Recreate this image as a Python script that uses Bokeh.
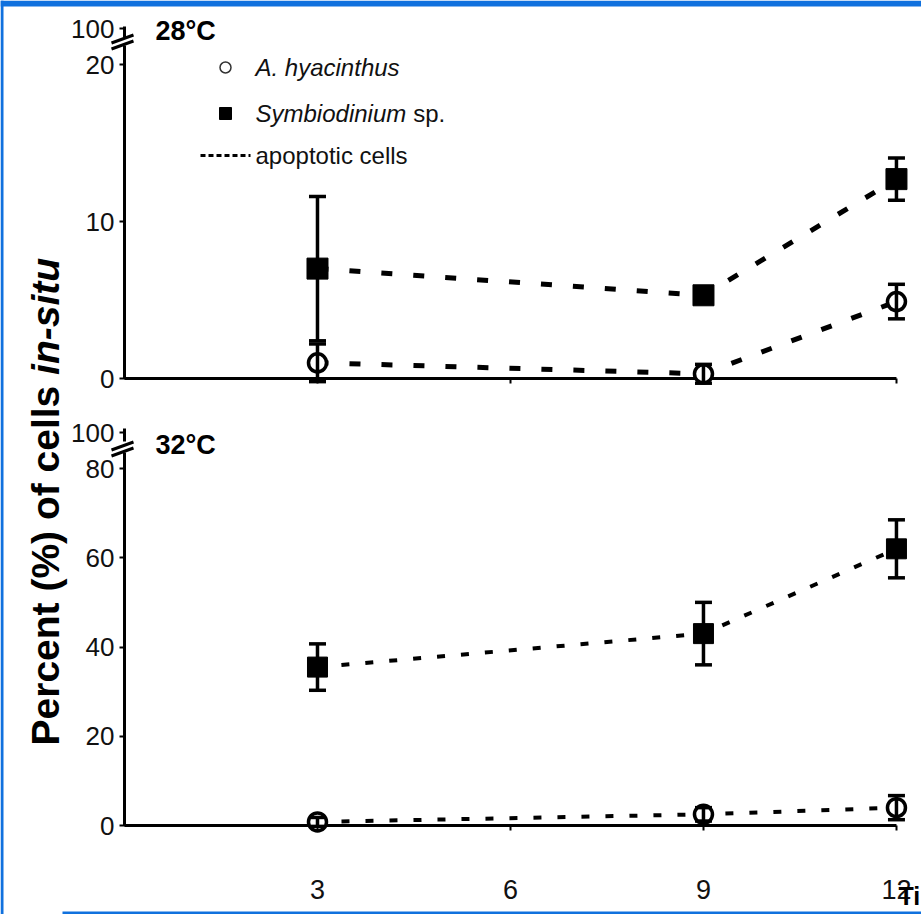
import math
from bokeh.plotting import figure
from bokeh.models import Range1d, LinearAxis, FixedTicker, Label
from bokeh.embed import file_html
from bokeh.resources import INLINE

# ---------------- data ----------------
hours = [3, 9, 12]
hya_28 = [1.0, 0.3, 4.9]
hya_28_err = [1.2, 0.6, 1.1]
sym_28 = [7.0, 5.3, 12.7]
sym_28_err = [4.6, 0.4, 1.35]
hya_32 = [0.8, 2.5, 4.0]
hya_32_err = [1.0, 1.5, 2.7]
sym_32 = [35.5, 43.0, 62.0]
sym_32_err = [5.2, 7.0, 6.5]

x_ticks = [3, 6, 9, 12]
y_ticks_28 = [0, 10, 20]
y_ticks_32 = [0, 20, 40, 60, 80]
break_label = "100"
panel_28 = "28°C"
panel_32 = "32°C"
legend_hya = "A. hyacinthus"
legend_sym = "Symbiodinium"
legend_sym_tail = "sp."
legend_line = "apoptotic cells"
ylabel_main = "Percent (%) of cells "
ylabel_ital = "in-situ"
xlabel = "Ti"

# ---------------- layout (pixel geometry, page coordinates) ----------------
W, H = 921, 914
X0, KX = 124.0, 64.33          # x=0 at px 124, px per hour
Y0T, KT = 378.0, 15.7          # top panel: y=0 at px 378, px per unit
Y0B, KB = 825.0, 4.4625        # bottom panel


def xd(px):
    return (px - X0) / KX


def yt(py):
    return (Y0T - py) / KT


def yb(py):
    return (Y0B - py) / KB


p = figure(width=W, height=H, output_backend="svg", toolbar_location=None, title=None,
           x_range=Range1d(xd(0), xd(W)), y_range=Range1d(yt(H), yt(0)),
           min_border_left=0, min_border_right=0, min_border_top=0, min_border_bottom=0)
p.extra_y_ranges = {"bot": Range1d(yb(H), yb(0))}
p.grid.visible = False
p.outline_line_color = None

TICK_FONT = "Liberation Sans"
BLACK = "black"
BLUE = "#1071de"

# slide frame fragments (blue border of the source slide)
p.quad(left=[xd(0), xd(0), xd(62)], right=[xd(W), xd(3), xd(W)],
       top=[yt(0), yt(0), yt(911)], bottom=[yt(6), yt(H), yt(H)],
       fill_color=BLUE, line_color=None)

# y axes
top100 = yt(28)
bot100 = yb(432)
yax = p.yaxis[0]
yax.ticker = FixedTicker(ticks=y_ticks_28 + [top100])
yax.major_label_overrides = {top100: break_label}
yax.fixed_location = 0
ybax = LinearAxis(y_range_name="bot", ticker=FixedTicker(ticks=y_ticks_32 + [bot100]),
                  major_label_overrides={bot100: break_label})
ybax.fixed_location = 0
p.add_layout(ybax, "left")
for ax in (yax, ybax):
    ax.axis_line_color = None
    ax.major_tick_line_width = 2
    ax.major_tick_out = 5
    ax.major_tick_in = 1
    ax.minor_tick_line_color = None
    ax.major_label_text_font = TICK_FONT
    ax.major_label_text_font_size = "26px"
    ax.major_label_text_color = "#111"
    ax.major_label_standoff = 5

# x axes
xax = p.xaxis[0]
xax.ticker = FixedTicker(ticks=x_ticks)
xax.fixed_location = yt(Y0B)
xtax = LinearAxis(ticker=FixedTicker(ticks=x_ticks))
xtax.fixed_location = 0
xtax.major_label_text_color = None
p.add_layout(xtax, "below")
for ax in (xax, xtax):
    ax.axis_line_color = None
    ax.major_tick_line_width = 2
    ax.major_tick_out = 5
    ax.major_tick_in = 0
    ax.minor_tick_line_color = None
    ax.major_label_text_font = TICK_FONT
    ax.major_label_text_font_size = "27px"
    ax.major_label_standoff = 49
xax.major_label_text_color = "#111"

# axis lines (drawn so the breaks can be shown)
p.segment(x0=[0, 0], y0=[0, yt(37)], x1=[0, 0], y1=[yt(45), yt(26)],
          line_width=3, line_color=BLACK)
p.segment(x0=[0], y0=[0], x1=[12], y1=[0], line_width=3, line_color=BLACK)
p.segment(x0=[0, 0], y0=[0, yb(441)], x1=[0, 0], y1=[yb(452), yb(428)],
          line_width=3, line_color=BLACK, y_range_name="bot")
p.segment(x0=[0], y0=[0], x1=[12], y1=[0], line_width=3, line_color=BLACK,
          y_range_name="bot")
# break marks
for yc in (44.5, 38.5):
    p.segment(x0=[xd(111)], y0=[yt(yc + 4)], x1=[xd(133)], y1=[yt(yc - 4)],
              line_width=3, line_color=BLACK)
for yc in (451.5, 445.5):
    p.segment(x0=[xd(111)], y0=[yb(yc + 4)], x1=[xd(133)], y1=[yb(yc - 4)],
              line_width=3, line_color=BLACK, y_range_name="bot")


def series(vals, errs, marker, size, dash, lw, rng):
    kw = {} if rng is None else {"y_range_name": rng}
    p.line(hours, vals, line_width=lw, line_dash=dash, line_color=BLACK, **kw)
    if marker == "square":
        p.scatter(hours, vals, marker="square", size=size, color=BLACK, **kw)
    else:
        p.scatter(hours, vals, marker="circle", size=size, fill_color="white",
                  line_color=BLACK, line_width=3.5, **kw)
    lo = [v - e for v, e in zip(vals, errs)]
    hi = [v + e for v, e in zip(vals, errs)]
    p.segment(x0=hours, y0=lo, x1=hours, y1=hi, line_width=3.5, line_color=BLACK, **kw)
    p.scatter(hours + hours, lo + hi, marker="dash", size=17, line_width=3.5,
              line_color=BLACK, **kw)


series(sym_28, sym_28_err, "square", 21, "11 21", 5, None)
series(hya_28, hya_28_err, "circle", 18, "11 21", 5, None)
series(sym_32, sym_32_err, "square", 20, "8 16", 4, "bot")
series(hya_32, hya_32_err, "circle", 18, "8 16", 4, "bot")

# legend (manual, mixed italic text)
p.scatter([xd(225)], [yt(67)], marker="circle", size=11, fill_color="white",
          line_color="#333", line_width=1.5)
p.scatter([xd(225)], [yt(113)], marker="square", size=12, color=BLACK)
p.line([xd(200), xd(250)], [yt(155), yt(155)], line_width=3, line_dash="5 3",
       line_color=BLACK)
LFS = 24
for txt, py, style in ((legend_hya, 67, "italic"), (legend_sym, 113, "italic"),
                       (legend_line, 155, "normal")):
    p.add_layout(Label(x=xd(255), y=yt(py), text=txt, text_font="Liberation Sans",
                       text_font_size=f"{LFS}px", text_font_style=style,
                       text_baseline="middle", text_color="#111"))
sym_w = 6.28 * LFS + 7
p.add_layout(Label(x=xd(255 + sym_w), y=yt(113), text=legend_sym_tail,
                   text_font="Liberation Sans", text_font_size=f"{LFS}px",
                   text_baseline="middle", text_color="#111"))

# panel titles
p.add_layout(Label(x=xd(155), y=yt(30), text=panel_28, text_font="Liberation Sans",
                   text_font_size="27px", text_font_style="bold", text_baseline="middle",
                   text_color=BLACK))
p.add_layout(Label(x=xd(155), y=yb(444), text=panel_32, text_font="Liberation Sans",
                   text_font_size="27px", text_font_style="bold", text_baseline="middle",
                   text_color=BLACK, y_range_name="bot"))

# y title (rotated, reads bottom to top)
YFS = 39
main_len = 9.503 * YFS
p.add_layout(Label(x=xd(45), y=yt(745), text=ylabel_main, angle=math.pi / 2,
                   text_font="Liberation Sans", text_font_size=f"{YFS}px",
                   text_font_style="bold", text_baseline="middle", text_align="left",
                   text_color=BLACK))
p.add_layout(Label(x=xd(45), y=yt(745 - main_len), text=ylabel_ital, angle=math.pi / 2,
                   text_font="Liberation Sans", text_font_size=f"{YFS}px",
                   text_font_style="bold italic", text_baseline="middle",
                   text_align="left", text_color=BLACK))

# x title fragment (the source is cropped at the right edge)
p.add_layout(Label(x=xd(898), y=yt(895), text=xlabel, text_font="Liberation Sans",
                   text_font_size="25px", text_font_style="bold",
                   text_baseline="middle", text_color=BLACK))

open("out.html", "w").write(file_html(p, INLINE))
